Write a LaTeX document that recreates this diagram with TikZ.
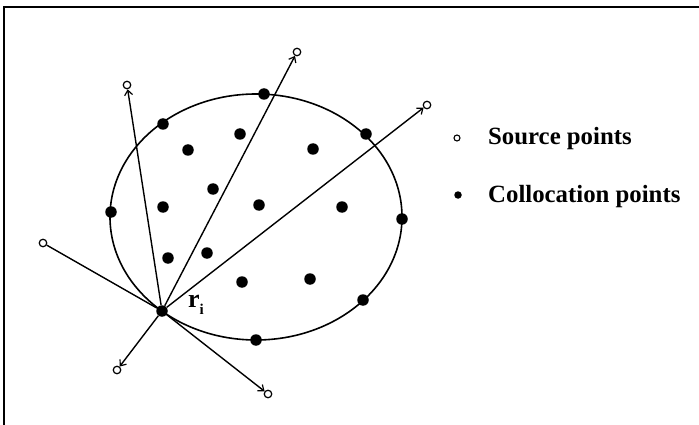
\documentclass[tikz,border=0pt]{standalone}
\usepackage{fontspec}
\setmainfont{Liberation Serif}
\usetikzlibrary{arrows.meta}
\tikzset{
  colpt/.style={circle,fill=black,inner sep=0pt,minimum size=11.5pt},
  srcpt/.style={circle,draw=black,fill=white,line width=1.2pt,inner sep=0pt,minimum size=7.5pt},
  ray/.style={line width=1.4pt},
  rayarrow/.style={ray,-{Straight Barb[length=5pt,width=8pt,line width=1.2pt]}},
  legtext/.style={anchor=base west,inner sep=0pt,font=\fontsize{24.8}{28}\selectfont\bfseries}
}
\begin{document}
\begin{tikzpicture}[x=1pt,y=-1pt]
\useasboundingbox (0,0) rectangle (699,425);
% frame (top and left edges)
\draw[line width=2.5pt] (4,425) -- (4,7) -- (699,7);
% boundary ellipse
\draw[line width=1.6pt] (256,217) ellipse [x radius=146, y radius=123];
% collocation point r_i
\node[colpt] (ri) at (162,311) {};
% source points
\node[srcpt] (s1) at (127,85) {};
\node[srcpt] (s2) at (297,52) {};
\node[srcpt] (s3) at (427,105) {};
\node[srcpt] (s4) at (43,243) {};
\node[srcpt] (s5) at (117,370) {};
\node[srcpt] (s6) at (268,394) {};
% rays
\draw[rayarrow] (ri) -- (s1);
\draw[rayarrow] (ri) -- (s2);
\draw[rayarrow] (ri) -- (s3);
\draw[ray] (ri) -- (s4);
\draw[rayarrow] (ri) -- (s5);
\draw[rayarrow] (ri) -- (s6);
% boundary collocation points
\node[colpt] (b1) at (264,94) {};
\node[colpt] (b2) at (163,124) {};
\node[colpt] (b3) at (366,134) {};
\node[colpt] (b4) at (111,212) {};
\node[colpt] (b5) at (402,219) {};
\node[colpt] (b6) at (363,300) {};
\node[colpt] (b7) at (256,340) {};
% interior collocation points
\node[colpt] (c1) at (188,150) {};
\node[colpt] (c2) at (240,134) {};
\node[colpt] (c3) at (313,149) {};
\node[colpt] (c4) at (213,189) {};
\node[colpt] (c5) at (163,207) {};
\node[colpt] (c6) at (259,205) {};
\node[colpt] (c7) at (342,207) {};
\node[colpt] (c8) at (168,258) {};
\node[colpt] (c9) at (207,253) {};
\node[colpt] (c10) at (242,282) {};
\node[colpt] (c11) at (310,279) {};
% label r_i
\node[legtext,font=\fontsize{26}{28}\selectfont\bfseries] (lab) at (188,307) {r\raisebox{-0.3em}{\fontsize{15}{15}\selectfont\bfseries i}};
% legend
\node[srcpt,minimum size=6pt,line width=1.1pt] (legs) at (457,138) {};
\node[legtext] (legst) at (488,145) {Source points};
\node[colpt,minimum size=7.5pt] (legc) at (458,195) {};
\node[legtext] (legct) at (488,202) {Collocation points};
\end{tikzpicture}
\end{document}
